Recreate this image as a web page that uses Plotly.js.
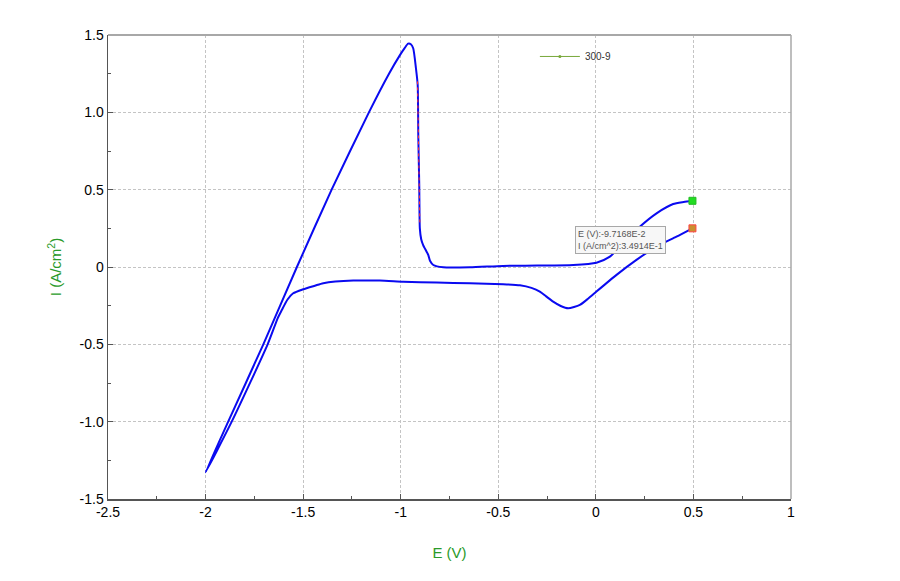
<!DOCTYPE html>
<html>
<head>
<meta charset="utf-8">
<script src="https://cdn.plot.ly/plotly-3.0.1.min.js"></script>
<style>html,body{margin:0;padding:0;background:#fff;}#chart{width:900px;height:581px;}</style>
</head>
<body>
<div id="chart"></div>
<script>
// Cyclic voltammogram, scan starts at 0.5 V going cathodic, then returns anodic
const potentialV = [0.495,0.413,0.311,0.208,0.106,0.003,-0.04,-0.082,-0.142,-0.18,-0.219,-0.255,-0.287,-0.33,-0.389,-0.475,-0.645,-0.816,-0.987,-1.107,-1.243,-1.397,-1.44,-1.5,-1.551,-1.58,-1.61,-1.63,-1.682,-1.866,-2.0,
  -1.884,-1.704,-1.532,-1.354,-1.163,-1.06,-1.004,-0.98,-0.962,-0.948,-0.936,-0.922,-0.913,-0.91,-0.905,-0.902,-0.895,-0.885,-0.859,-0.85,-0.833,-0.782,-0.645,-0.475,-0.3,-0.116,0.003,0.072,0.14,0.225,0.311,0.396,0.45,0.495];
const currentDensity = [0.25,0.196,0.132,0.046,-0.051,-0.159,-0.205,-0.245,-0.267,-0.252,-0.224,-0.19,-0.159,-0.135,-0.118,-0.111,-0.105,-0.101,-0.095,-0.088,-0.088,-0.105,-0.121,-0.144,-0.17,-0.21,-0.28,-0.33,-0.5,-1.0,-1.327,
  -1.0,-0.5,0.0,0.5,1.0,1.25,1.37,1.415,1.444,1.44,1.414,1.285,1.177,0.854,0.53,0.25,0.18,0.142,0.078,0.04,0.013,-0.002,-0.002,0.007,0.009,0.013,0.028,0.067,0.153,0.26,0.347,0.407,0.42,0.428];
// highlighted (red dotted) part of the anodic drop
const highlightV = [-0.914,-0.91,-0.905,-0.902];
const highlightI = [1.2,0.854,0.53,0.28];
// end markers
const endV = [0.495,0.495];
const endI = [0.428,0.25];
const seriesName = '300-9';
const xTicks = [-2.5,-2,-1.5,-1,-0.5,0,0.5,1];
const xTickText = ['-2.5','-2','-1.5','-1','-0.5','0','0.5','1'];
const yTicks = [-1.5,-1,-0.5,0,0.5,1,1.5];
const yTickText = ['-1.5','-1.0','-0.5','0','0.5','1.0','1.5'];

const traces = [
  {x: potentialV, y: currentDensity, mode: 'lines', line: {color: '#0a0af0', width: 2, shape: 'spline', smoothing: 0.6}, showlegend: false, hoverinfo: 'skip'},
  {x: highlightV, y: highlightI, mode: 'lines', line: {color: '#ff3030', width: 1, dash: 'dot'}, showlegend: false, hoverinfo: 'skip'},
  {x: endV, y: endI, mode: 'markers', marker: {symbol: 'square', size: 7, color: ['#22dd22','#c89030'], line: {color: ['#22bb22','#ff4444'], width: 1}}, showlegend: false, hoverinfo: 'skip'},
  {x: [null], y: [null], name: seriesName, mode: 'lines+markers', line: {color: '#78a83a', width: 1}, marker: {size: 3, color: '#78a83a'}, showlegend: true}
];

const gridCol = '#c4c4c4';
const layout = {
  width: 900, height: 581,
  margin: {l: 108, r: 109, t: 35, b: 82},
  paper_bgcolor: '#ffffff', plot_bgcolor: '#ffffff',
  font: {family: 'Liberation Sans, Arial, sans-serif', size: 14, color: '#000'},
  xaxis: {
    range: [-2.5, 1], tickmode: 'array', tickvals: xTicks, ticktext: xTickText,
    showgrid: true, gridcolor: gridCol, griddash: '3px,2px', gridwidth: 1,
    zeroline: false, showline: true, linecolor: '#555', linewidth: 1.5,
    ticks: 'inside', ticklen: 5, tickcolor: '#555',
    minor: {ticks: 'inside', ticklen: 3, dtick: 0.25, tick0: 0, tickcolor: '#555', showgrid: false},
    tickfont: {size: 14, color: '#000'},
    title: {text: 'E (V)', font: {size: 15, color: '#2a9a2a'}, standoff: 28}
  },
  yaxis: {
    range: [-1.5, 1.5], tickmode: 'array', tickvals: yTicks, ticktext: yTickText,
    showgrid: true, gridcolor: gridCol, griddash: '3px,2px', gridwidth: 1,
    zeroline: false, showline: true, linecolor: '#555', linewidth: 1.5,
    ticks: 'inside', ticklen: 5, tickcolor: '#555',
    minor: {ticks: 'inside', ticklen: 3, dtick: 0.25, tick0: 0, tickcolor: '#555', showgrid: false},
    tickfont: {size: 14, color: '#000'},
    title: {text: 'I (A/cm<sup>2</sup>)', font: {size: 15, color: '#2a9a2a'}, standoff: 14}
  },
  shapes: [
    {type: 'line', xref: 'x domain', yref: 'y domain', x0: 0, x1: 1, y0: 1, y1: 1, line: {color: '#a8a8a8', width: 2}},
    {type: 'line', xref: 'x domain', yref: 'y domain', x0: 1, x1: 1, y0: 0, y1: 1, line: {color: '#a8a8a8', width: 1.5}}
  ],
  legend: {x: 0.625, y: 0.985, xanchor: 'left', yanchor: 'top', itemwidth: 40, bgcolor: 'rgba(0,0,0,0)', font: {size: 10, color: '#333'}},
  annotations: [
    {xref: 'x', yref: 'y', x: -0.108, y: 0.265, xanchor: 'left', yanchor: 'top', align: 'left', showarrow: false,
     text: 'E (V):-9.7168E-2<br>I (A/cm^2):3.4914E-1', font: {size: 9, color: '#555'},
     bgcolor: '#f7f7f7', bordercolor: '#a8a8a8', borderwidth: 1, borderpad: 2}
  ]
};
Plotly.newPlot('chart', traces, layout, {displayModeBar: false, staticPlot: true});
</script>
</body>
</html>
